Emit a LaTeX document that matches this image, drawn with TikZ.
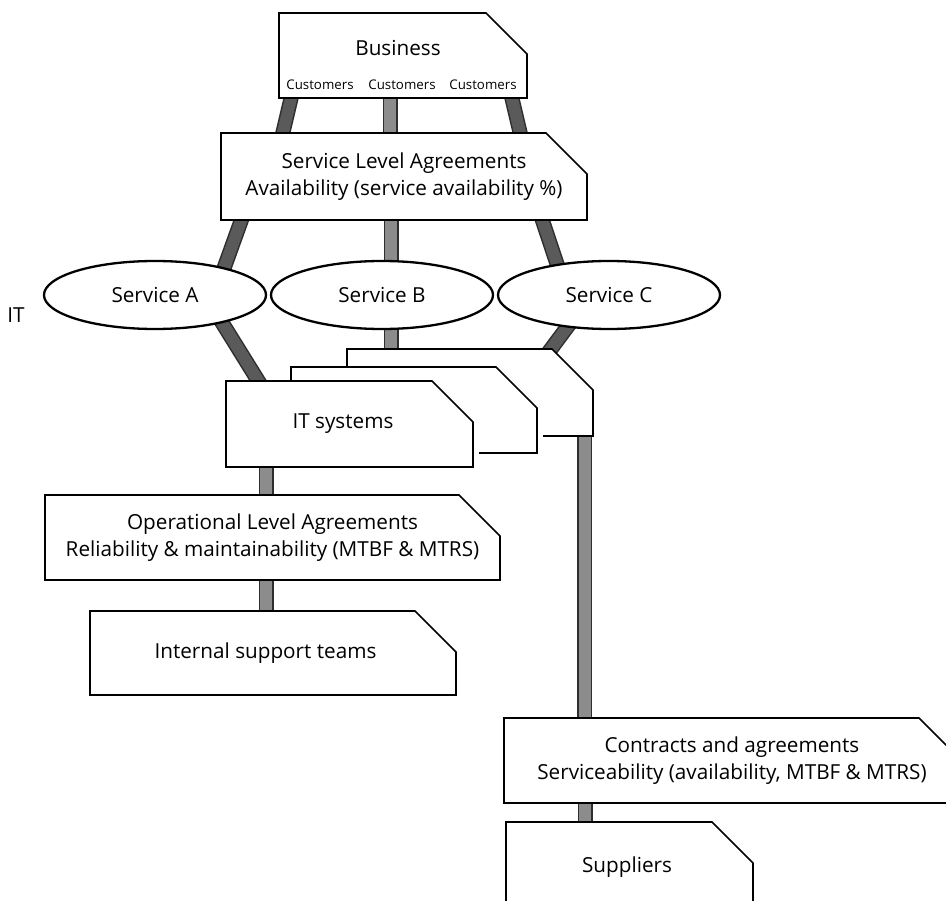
\documentclass[tikz,border=0pt]{standalone}
\usepackage{fontspec}
\setmainfont{Open Sans}
\usetikzlibrary{shapes.geometric}
\pgfdeclarelayer{paper}
\pgfdeclarelayer{bands}
\pgfdeclarelayer{boxes}
\pgfsetlayers{paper,bands,boxes,main}
\definecolor{bandedge}{HTML}{2E2E2E}
\definecolor{bandmid}{HTML}{8C8C8C}
\definecolor{banddark}{HTML}{5A5A5A}
\newcommand\txtsize{\fontsize{20.7}{27.5}\selectfont}
\newcommand\smallsize{\fontsize{13.3}{16}\selectfont}
\tikzset{
  box/.style={rectangle, draw=none, inner sep=0pt, outer sep=0pt, align=center, font=\txtsize},
  lbl/.style={inner sep=0pt, outer sep=0pt, font=\txtsize},
  outline/.style={fill=white, draw=black, line width=1.7pt, line join=miter},
  gapmask/.style={draw=white, line width=12pt},
  ell/.style={ellipse, draw=black, fill=white, line width=2.3pt, minimum width=222, minimum height=68, inner sep=0pt, font=\txtsize},
  vband/.style={line width=15pt, draw=bandedge, postaction={draw=bandmid, line width=12pt}},
  sband/.style={line width=15pt, draw=bandedge, postaction={draw=banddark, line width=12pt}},
}
\newcommand\chamferbox[2]{%
  \begin{pgfonlayer}{boxes}
    \path[outline] (#1.south west) -- (#1.north west) -- ([xshift=-#2]#1.north east)
      -- ([yshift=-#2]#1.north east) -- (#1.south east) -- cycle;
  \end{pgfonlayer}}
\newcommand\rightgap[2]{%
  \begin{pgfonlayer}{boxes}
    \draw[gapmask] (#1.south east) -- ([yshift=-#2]#1.north east);
  \end{pgfonlayer}}
\begin{document}
\begin{tikzpicture}[x=1pt,y=-1pt]
\useasboundingbox (0,0) rectangle (946,901);
\begin{pgfonlayer}{paper}
\fill[white] (0,0) rectangle (946,901);
\end{pgfonlayer}

% boxes
\node[box, minimum width=248, minimum height=85] (biz) at (403,55.5) {};
\node[lbl] (bizt) at (398,48) {Business};
\node[lbl, font=\smallsize] (c1) at (320,85) {Customers};
\node[lbl, font=\smallsize] (c2) at (402,85) {Customers};
\node[lbl, font=\smallsize] (c3) at (483,85) {Customers};

\node[box, minimum width=366, minimum height=87] (sla) at (404,176.5)
  {Service Level Agreements\\Availability (service availability \%)};

\node[ell] (ellA) at (155,295) {Service A};
\node[ell] (ellB) at (382,295) {Service B};
\node[ell] (ellC) at (609,295) {Service C};
\node[lbl] (itlbl) at (16,315) {IT};

\node[box, minimum width=246, minimum height=87] (its3) at (470,392.5) {};
\node[box, minimum width=246, minimum height=86] (its2) at (414,410) {};
\node[box, minimum width=247, minimum height=86] (its) at (349.5,424) {\hspace*{-13pt}IT systems};

\node[box, minimum width=455, minimum height=85] (ola) at (272.5,537.5)
  {Operational Level Agreements\\Reliability \& maintainability (MTBF \& MTRS)};
\node[box, minimum width=366, minimum height=84] (isp) at (273,653) {\hspace*{-15pt}Internal support teams};

\node[box, minimum width=456, minimum height=85] (con) at (732,760.5)
  {Contracts and agreements\\Serviceability (availability, MTBF \& MTRS)};
\node[box, minimum width=247, minimum height=90] (sup) at (629.5,867) {\hspace*{-5pt}Suppliers};

\chamferbox{biz}{41pt}
\chamferbox{sla}{41pt}
\chamferbox{its3}{41pt}
\rightgap{its2}{41pt}
\chamferbox{its2}{41pt}
\rightgap{its}{41pt}
\chamferbox{its}{41pt}
\chamferbox{ola}{41pt}
\chamferbox{isp}{41pt}
\chamferbox{con}{41pt}
\chamferbox{sup}{41pt}

% connectors
\begin{pgfonlayer}{bands}
\draw[sband] ([shift={(-110,-8)}]biz.south) -- ([shift={(-124,12)}]sla.north);
\draw[vband] ([shift={(-13,-8)}]biz.south) -- ([shift={(-14,12)}]sla.north);
\draw[sband] ([shift={(107,-8)}]biz.south) -- ([shift={(119,12)}]sla.north);

\draw[sband] ([shift={(-159,-10)}]sla.south) -- ([shift={(63,-10)}]ellA.center);
\draw[vband] ([shift={(-13,-10)}]sla.south) -- ([shift={(9,-10)}]ellB.center);
\draw[sband] ([shift={(135,-10)}]sla.south) -- ([shift={(-45,-10)}]ellC.center);

\draw[sband] ([shift={(53,5)}]ellA.center) -- ([shift={(-82.5,14)}]its.north);
\draw[vband] ([shift={(9,10)}]ellB.center) -- ([shift={(-79,11)}]its3.north);
\draw[sband] ([shift={(-29,15)}]ellC.center) -- ([shift={(75,8)}]its3.north);

\draw[vband] ([shift={(114.5,-6)}]its3.south) -- ([shift={(-147.5,7)}]con.north);
\draw[vband] ([shift={(-83.5,-7)}]its.south) -- ([shift={(-6.5,7)}]ola.north);
\draw[vband] ([shift={(-6.5,-6)}]ola.south) -- ([shift={(-7,7)}]isp.north);
\draw[vband] ([shift={(-147,-6)}]con.south) -- ([shift={(-44.5,7)}]sup.north);
\end{pgfonlayer}
\end{tikzpicture}
\end{document}
